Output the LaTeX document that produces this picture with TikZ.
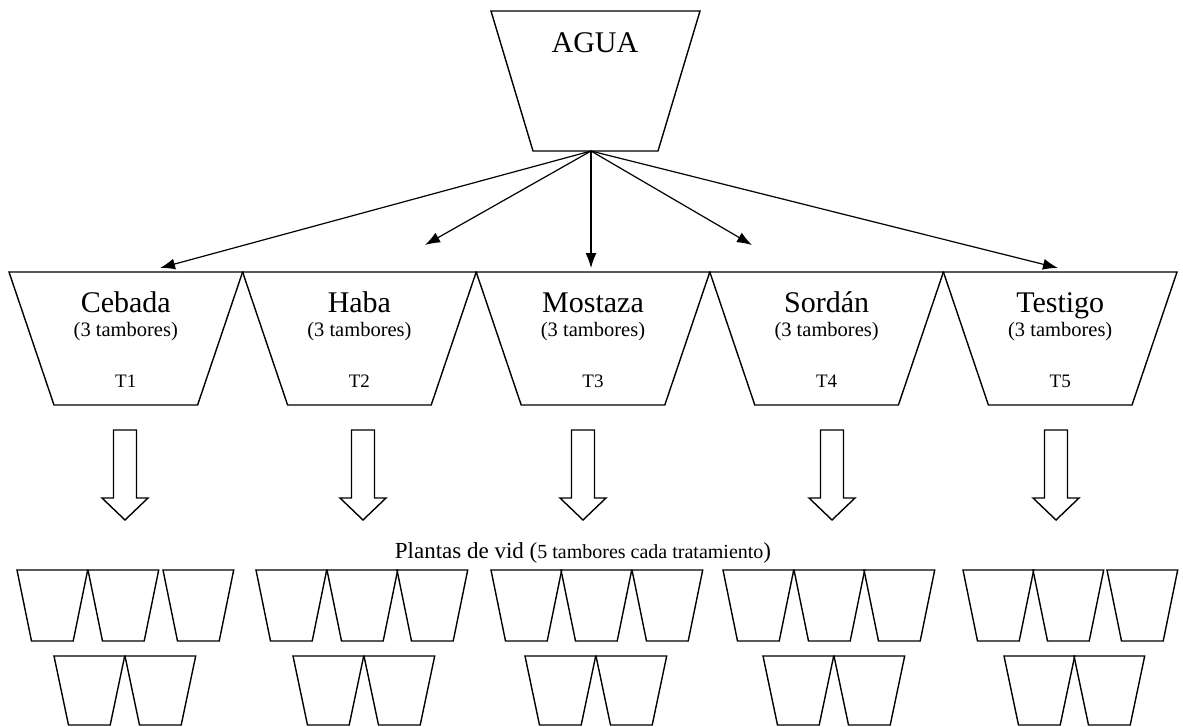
\documentclass[tikz,border=0pt]{standalone}
\usepackage{fontspec}
\setmainfont{Liberation Serif}
\usetikzlibrary{arrows.meta, positioning}
\def\trapW{233.6}
\def\trapInset{45}
\def\trapH{133}
\def\potW{70.7}
\def\potInset{14.5}
\newcommand{\drawPot}[3]{\draw[outline] (#1,#2) -- ++(\potW,0) -- ++(-\potInset,#3) -- ++({-\potW+2*\potInset},0) -- cycle;}

\tikzset{
    outline/.style={line width=1.4pt, line join=miter},
    flow/.style={line width=1.2pt, -{Latex[length=15pt,width=11pt]}},
    bigLabel/.style={font=\fontsize{30}{30}\selectfont, inner sep=0pt, anchor=base},
    subLabel/.style={font=\fontsize{20.5}{20.5}\selectfont, inner sep=0pt, anchor=base},
    numLabel/.style={font=\fontsize{19}{19}\selectfont, inner sep=0pt, anchor=base}
}

\begin{document}
\begin{tikzpicture}[x=1pt,y=-1pt]
    \useasboundingbox (0,0) rectangle (1183,726);

    % Source
    \draw[outline] (491,11) -- (700,11) -- (658,151) -- (533,151) -- cycle;
    \node[bigLabel] (agua) at (595,52) {AGUA};
    \coordinate (aguaOut) at (591,151);

    % Treatments
    \foreach \name/\lab/\tipX/\tipY [count=\i from 0] in {cebada/Cebada/160/268, haba/Haba/425/245, mostaza/Mostaza/591/268, sordan/Sordán/752/245, testigo/Testigo/1058/268} {
        \pgfmathsetmacro{\tStart}{9 + \i * \trapW}
        \pgfmathsetmacro{\tMid}{\tStart + \trapW / 2}
        \pgfmathtruncatemacro{\tNum}{\i + 1}
        \draw[outline] (\tStart,272) -- ++(\trapW,0) -- ++(-\trapInset,\trapH) -- ++({-\trapW + 2 * \trapInset},0) -- cycle;
        \node[bigLabel] (\name) at (\tMid,312) {\lab};
        \node[subLabel] (\name-sub) at (\tMid,336) {(3 tambores)};
        \node[numLabel] (\name-t) at (\tMid,387) {T\tNum};
        \coordinate (\name-in) at (\tipX,\tipY);
        \draw[flow] (aguaOut) -- (\name-in);
    }

    % Block arrows
    \foreach \ax in {125,363,583,832,1056} {
        \draw[outline] ({\ax-11.5},430) -- ({\ax+11.5},430) -- ({\ax+11.5},498) -- ({\ax+23},498)
            -- (\ax,520) -- ({\ax-23},498) -- ({\ax-11.5},498) -- cycle;
    }

    \node[inner sep=0pt, anchor=base, font=\fontsize{23}{23}\selectfont] (plantas) at (583,558)
        {Plantas de vid ({\fontsize{20}{20}\selectfont 5 tambores cada tratamiento})};

    % Vine pots
    \foreach \px in {17,88,163,256,327,397,491,561,632,723,794,864,963,1033,1107} {
        \drawPot{\px}{570}{71}
    }
    \foreach \px in {54,125,293,364,525,596,763,834,1004,1074} {
        \drawPot{\px}{656}{69}
    }
\end{tikzpicture}
\end{document}
